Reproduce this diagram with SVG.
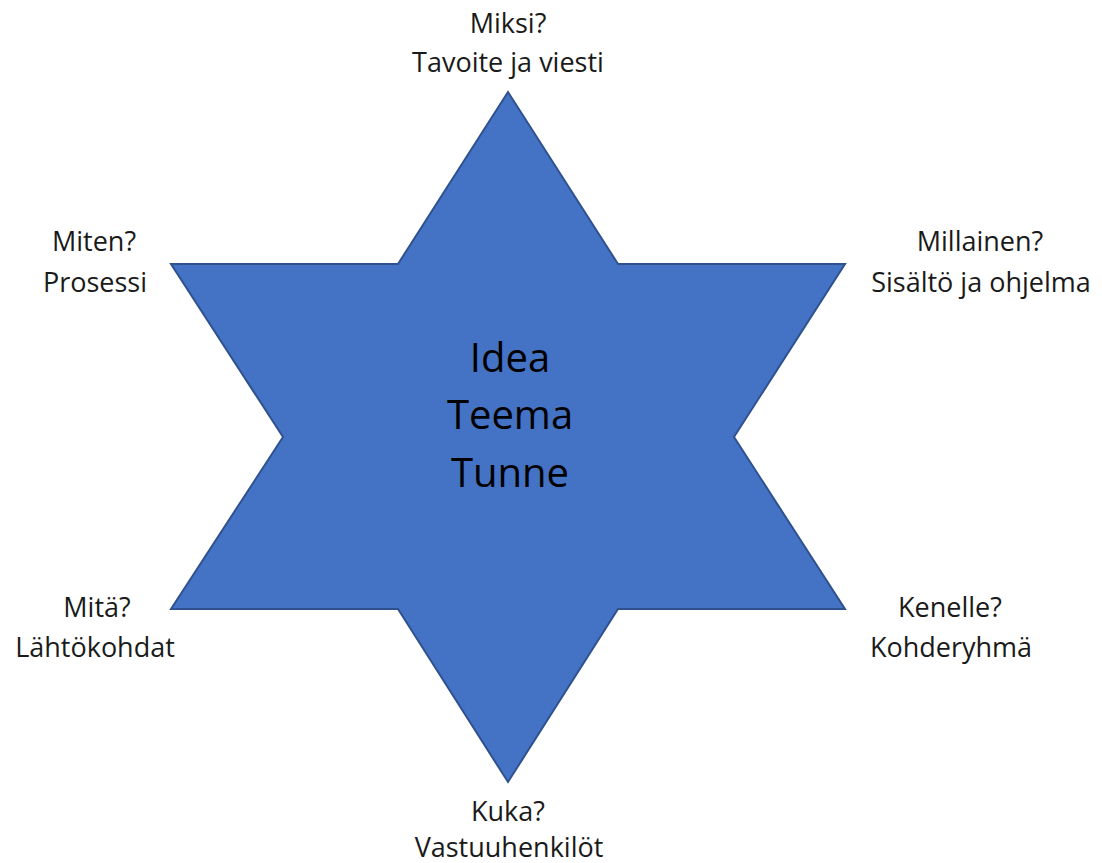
<svg xmlns="http://www.w3.org/2000/svg" width="1102" height="863" viewBox="0 0 1102 863">
<style>
.lbl{font-family:"Open Sans","Liberation Sans",sans-serif;font-size:27px;fill:#1a1a1a;text-anchor:middle}
.ctr{font-family:"Open Sans","Liberation Sans",sans-serif;font-size:40px;fill:#000;text-anchor:middle}
.star{fill:#4472C4;stroke:#2F528F;stroke-width:2;stroke-linejoin:miter}
</style>
<rect width="1102" height="863" fill="#fff"/>
<g id="star">
<polygon class="star" points="508,92 398,264 171,264 283,437 171,609 398,609 508,782 618,609 845,609 734,437 845,264 618,264"/>
<text class="ctr" x="510" y="372">Idea</text>
<text class="ctr" x="510" y="429">Teema</text>
<text class="ctr" x="510" y="487">Tunne</text>
</g>
<g id="top">
<text class="lbl" x="508" y="33">Miksi?</text>
<text class="lbl" x="508" y="72">Tavoite ja viesti</text>
</g>
<g id="topleft">
<text class="lbl" x="94" y="251">Miten?</text>
<text class="lbl" x="95" y="292">Prosessi</text>
</g>
<g id="topright">
<text class="lbl" x="980" y="251">Millainen?</text>
<text class="lbl" x="981" y="292">Sisältö ja ohjelma</text>
</g>
<g id="bottomleft">
<text class="lbl" x="97" y="617">Mitä?</text>
<text class="lbl" x="95" y="657">Lähtökohdat</text>
</g>
<g id="bottomright">
<text class="lbl" x="950" y="617">Kenelle?</text>
<text class="lbl" x="951" y="657">Kohderyhmä</text>
</g>
<g id="bottom">
<text class="lbl" x="508" y="821">Kuka?</text>
<text class="lbl" x="509" y="857">Vastuuhenkilöt</text>
</g>
<g id="connectors"></g>
</svg>
